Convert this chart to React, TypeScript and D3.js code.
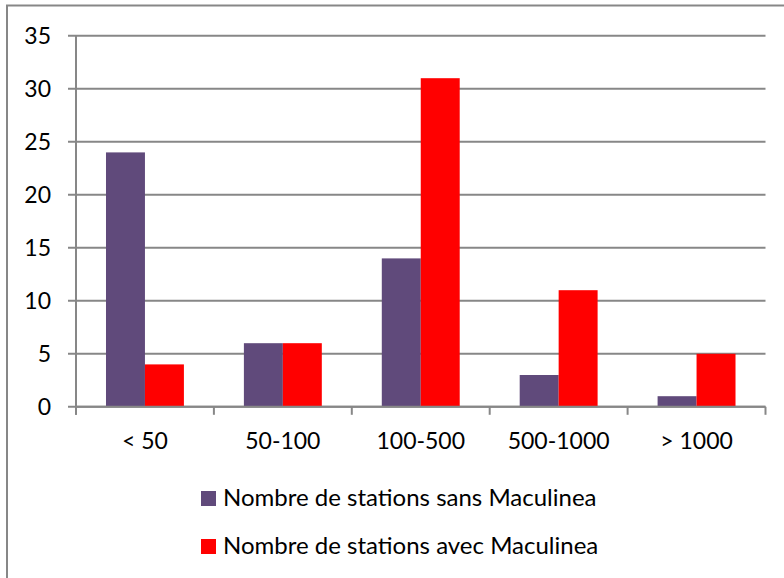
import React, { useRef, useEffect } from 'react';
import * as d3 from 'd3';

const categories = ['< 50', '50-100', '100-500', '500-1000', '> 1000'];
const seriesNames = ['Nombre de stations sans Maculinea', 'Nombre de stations avec Maculinea'];
const sansValues = [24, 6, 14, 3, 1];
const avecValues = [4, 6, 31, 11, 5];
const yTicks = [0, 5, 10, 15, 20, 25, 30, 35];
const colors = ['#604A7B', '#FF0000'];

const App = () => {
  const svgRef = useRef<SVGSVGElement | null>(null);

  useEffect(() => {
    const svg = d3.select(svgRef.current);
    svg.selectAll('*').remove();

    const width = 784;
    const height = 578;
    const font = 'Lato, Calibri, sans-serif';
    const gray = '#878787';

    // outer chart border (only top and left visible in the frame)
    svg.append('rect')
      .attr('x', 7).attr('y', 5.5)
      .attr('width', width + 20).attr('height', height + 20)
      .attr('fill', 'white')
      .attr('stroke', gray).attr('stroke-width', 2);

    const plot = { left: 76, right: 765.5, top: 35.8, bottom: 406.8 };

    const y = d3.scaleLinear().domain([0, 35]).range([plot.bottom, plot.top]);
    const x = d3.scaleBand<string>()
      .domain(categories)
      .range([plot.left, plot.right])
      .paddingInner(0.435)
      .paddingOuter(0.2175);
    const xInner = d3.scaleBand<number>().domain([0, 1]).range([0, x.bandwidth()]);

    // gridlines + y ticks
    const g = svg.append('g');
    g.selectAll('line.grid')
      .data(yTicks)
      .enter().append('line')
      .attr('x1', plot.left - 8)
      .attr('x2', plot.right)
      .attr('y1', d => y(d))
      .attr('y2', d => y(d))
      .attr('stroke', gray)
      .attr('stroke-width', 2);

    g.selectAll('text.ylab')
      .data(yTicks)
      .enter().append('text')
      .attr('x', 51)
      .attr('y', d => y(d))
      .attr('dy', '0.36em')
      .attr('text-anchor', 'end')
      .attr('font-family', font)
      .attr('font-size', 23)
      .attr('fill', '#000')
      .text(d => d);

    // bars
    const series = [sansValues, avecValues];
    series.forEach((vals, si) => {
      g.selectAll(`rect.s${si}`)
        .data(vals)
        .enter().append('rect')
        .attr('x', (d, i) => (x(categories[i]) as number) + (xInner(si) as number))
        .attr('y', d => y(d))
        .attr('width', xInner.bandwidth())
        .attr('height', d => y(0) - y(d))
        .attr('fill', colors[si]);
    });

    // y axis line
    g.append('line')
      .attr('x1', plot.left).attr('x2', plot.left)
      .attr('y1', plot.top).attr('y2', plot.bottom + 8)
      .attr('stroke', gray).attr('stroke-width', 2);

    // x axis line and ticks at band boundaries
    g.append('line')
      .attr('x1', plot.left).attr('x2', plot.right)
      .attr('y1', plot.bottom).attr('y2', plot.bottom)
      .attr('stroke', gray).attr('stroke-width', 2);

    const step = x.step();
    const boundaries = d3.range(categories.length + 1).map(i => plot.left + i * step);
    g.selectAll('line.xtick')
      .data(boundaries)
      .enter().append('line')
      .attr('x1', d => d).attr('x2', d => d)
      .attr('y1', plot.bottom).attr('y2', plot.bottom + 8)
      .attr('stroke', gray).attr('stroke-width', 2);

    g.selectAll('text.xlab')
      .data(categories)
      .enter().append('text')
      .attr('x', d => (x(d) as number) + x.bandwidth() / 2)
      .attr('y', 449)
      .attr('text-anchor', 'middle')
      .attr('font-family', font)
      .attr('font-size', 23)
      .attr('fill', '#000')
      .text(d => d);

    // legend
    const legend = g.selectAll('g.legend')
      .data(seriesNames)
      .enter().append('g')
      .attr('transform', (d, i) => `translate(201, ${491 + i * 48})`);

    legend.append('rect')
      .attr('width', 15).attr('height', 15)
      .attr('fill', (d, i) => colors[i]);

    legend.append('text')
      .attr('x', 22)
      .attr('y', 15)
      .attr('font-family', font)
      .attr('font-size', 24)
      .attr('fill', '#000')
      .text(d => d);
  }, []);

  return (
    <svg ref={svgRef} width={784} height={578}
      style={{ position: 'absolute', left: 0, top: 0 }} />
  );
};

export default App;
